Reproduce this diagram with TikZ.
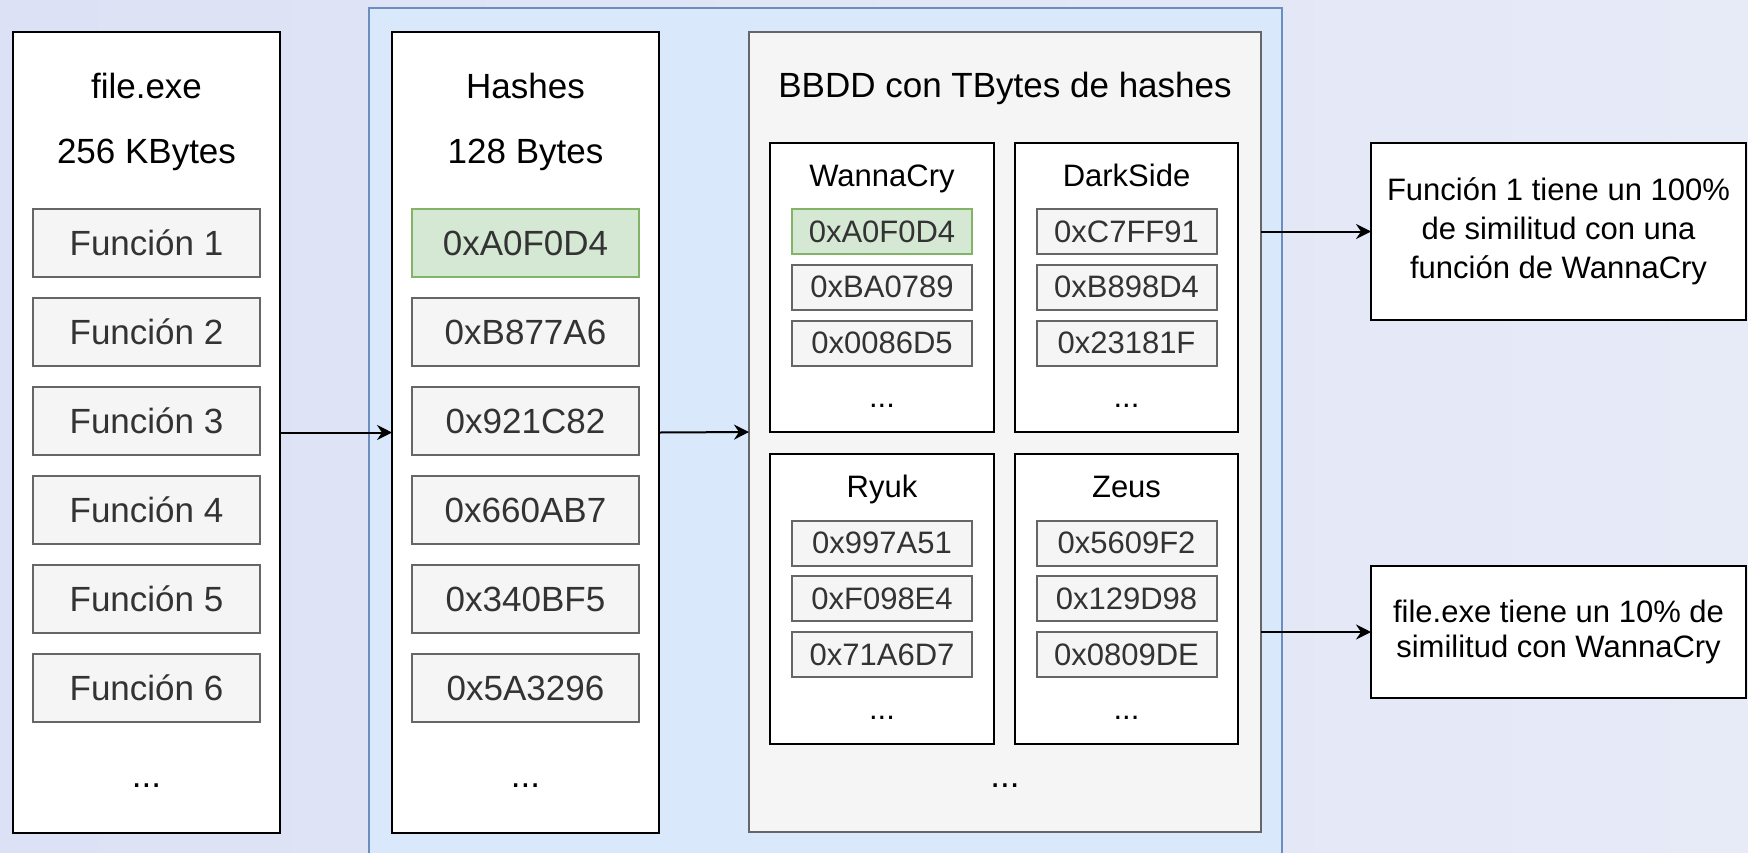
\documentclass[tikz,border=0pt]{standalone}
\usepackage{fontspec}
\setmainfont{Liberation Sans}
\usetikzlibrary{arrows.meta}
\definecolor{grpfill}{HTML}{DAE8FC}
\definecolor{grpline}{HTML}{6C8EBF}
\definecolor{itemfill}{HTML}{F5F5F5}
\definecolor{itemline}{HTML}{666666}
\definecolor{itemtext}{HTML}{333333}
\definecolor{hitfill}{HTML}{D5E8D4}
\definecolor{hitline}{HTML}{82B366}
\definecolor{bgL}{HTML}{DCE1F5}
\definecolor{bgM}{HTML}{ECEEF9}
\definecolor{bgR}{HTML}{E7EAF7}

\begin{document}
\begin{tikzpicture}[x=0.5pt,y=-0.5pt,
  base/.style={rectangle, inner sep=0pt, outer sep=0pt, line width=1pt},
  panel/.style={base, draw=black, fill=white},
  dbpanel/.style={base, draw=itemline, fill=itemfill},
  grp/.style={base, draw=grpline, fill=grpfill},
  big/.style={font=\fontsize{17.5}{21}\selectfont},
  small/.style={font=\fontsize{15.5}{18}\selectfont},
  label/.style={big, inner sep=0pt, anchor=base},
  sublabel/.style={small, inner sep=0pt, anchor=base},
  item/.style={base, big, draw=itemline, fill=itemfill, text=itemtext,
    minimum width=113.5pt, minimum height=34pt},
  hit/.style={item, draw=hitline, fill=hitfill},
  subitem/.style={item, small, minimum width=90pt, minimum height=22.5pt},
  subhit/.style={subitem, draw=hitline, fill=hitfill},
  result/.style={panel, align=center, minimum width=187.5pt},
  arr/.style={-{Stealth[length=7.5pt,width=7.5pt,inset=2.5pt]}, line width=1pt}
]
\useasboundingbox (0,0) rectangle (1748,852);
\clip (0,0) rectangle (1748,852);

% backdrop
\shade[left color=bgL, middle color=bgM, right color=bgR] (0,0) rectangle (1748,852);

% blue group holding the hash list and the database
\node[grp, minimum width=456.5pt, minimum height=431pt] (group) at (825.5,439) {};

% executable and its functions
\node[panel, minimum width=133.5pt, minimum height=400.5pt] (file) at (146.5,432.5) {};
\node[label] (fileT) at (146.5,98) {file.exe};
\node[label] (fileS) at (146.5,163) {256 KBytes};
\foreach \i/\y in {1/243,2/332,3/421,4/510,5/599,6/688}
  \node[item] (f\i) at (146.5,\y) {Función \i};
\node[label] (fileD) at (146.5,787) {...};

% hashes of the functions
\node[panel, minimum width=133.5pt, minimum height=400.5pt] (hashes) at (525.5,432.5) {};
\node[label] (hashT) at (525.5,98) {Hashes};
\node[label] (hashS) at (525.5,163) {128 Bytes};
\foreach \i/\y/\h/\s in {1/243/0xA0F0D4/hit,2/332/0xB877A6/item,3/421/0x921C82/item,
    4/510/0x660AB7/item,5/599/0x340BF5/item,6/688/0x5A3296/item}
  \node[\s] (h\i) at (525.5,\y) {\h};
\node[label] (hashD) at (525.5,787) {...};

% hash database
\node[dbpanel, minimum width=256pt, minimum height=400pt] (bbdd) at (1005,432) {};
\node[label] (bbddT) at (1005,97) {BBDD con TBytes de hashes};
\foreach \n/\lbl/\cx/\top/\s/\a/\b/\c in {
    wc/WannaCry/882/142.7/subhit/0xA0F0D4/0xBA0789/0x0086D5,
    ds/DarkSide/1126.5/142.7/subitem/0xC7FF91/0xB898D4/0x23181F,
    ry/Ryuk/882/454/subitem/0x997A51/0xF098E4/0x71A6D7,
    ze/Zeus/1126.5/454/subitem/0x5609F2/0x129D98/0x0809DE} {
  \node[panel, minimum width=111.75pt, minimum height=144.75pt] (\n) at (\cx,\top+144.75) {};
  \node[sublabel] (\n T) at (\cx,\top+43.5) {\lbl};
  \node[\s] (\n1) at (\cx,\top+89) {\a};
  \node[subitem] (\n2) at (\cx,\top+144.5) {\b};
  \node[subitem] (\n3) at (\cx,\top+200.5) {\c};
  \node[sublabel] (\n D) at (\cx,\top+265) {...};
}
\node[label] (bbddD) at (1005,787) {...};

% conclusions
\node[result, minimum height=88.5pt, font=\fontsize{15.5}{19.5}\selectfont] (r1) at (1558.5,231.5)
  {Función 1 tiene un 100\%\\de similitud con una\\función de WannaCry};
\node[result, minimum height=66pt, font=\fontsize{15.5}{17.5}\selectfont] (r2) at (1558.5,632)
  {file.exe tiene un 10\% de\\similitud con WannaCry};

% flow
\draw[arr] (file.east) -- (hashes.west);
\draw[arr] (hashes.east) -- (bbdd.west);
\draw[arr] (bbdd.east |- r1.west) -- (r1.west);
\draw[arr] (bbdd.east |- r2.west) -- (r2.west);
\end{tikzpicture}
\end{document}
